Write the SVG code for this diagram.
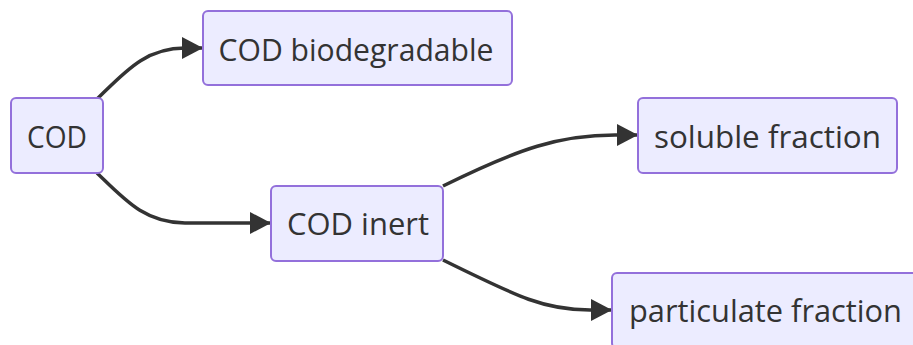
<svg xmlns="http://www.w3.org/2000/svg" width="913" height="345" viewBox="0 0 913 345">
  <style>
    .node rect { fill: #ECECFF; stroke: #9370DB; stroke-width: 2; }
    .node text { fill: #333333; font-family: "Open Sans", "Noto Sans", sans-serif; font-size: 31px; text-anchor: middle; }
    .edge { fill: none; stroke: #333333; stroke-width: 3.5; }
  </style>
  <defs>
    <marker id="arrow" markerUnits="userSpaceOnUse" markerWidth="22" markerHeight="24" refX="21" refY="11" orient="auto">
      <path d="M0,0 L21,11 L0,22 Z" fill="#333333"/>
    </marker>
  </defs>

  <g id="connectors">
    <path class="edge" marker-end="url(#arrow)" d="M97,99 C125,72 145,48 185,48 L203,48"/>
    <path class="edge" marker-end="url(#arrow)" d="M97,173 C125,200 145,223 185,223 L271,223"/>
    <path class="edge" marker-end="url(#arrow)" d="M443,186 C520,148 560,135 615,135 L638,135"/>
    <path class="edge" marker-end="url(#arrow)" d="M443,260 C520,298 545,310 590,310 L612,310"/>
  </g>

  <g id="cod" class="node">
    <rect x="11" y="98" width="92" height="75" rx="5"/>
    <text x="57" y="148" textLength="60" lengthAdjust="spacingAndGlyphs">COD</text>
  </g>
  <g id="cod-biodegradable" class="node">
    <rect x="203" y="11" width="309" height="74" rx="5"/>
    <text x="356" y="61" textLength="275" lengthAdjust="spacingAndGlyphs">COD biodegradable</text>
  </g>
  <g id="cod-inert" class="node">
    <rect x="271" y="186" width="172" height="75" rx="5"/>
    <text x="358" y="235" textLength="142" lengthAdjust="spacingAndGlyphs">COD inert</text>
  </g>
  <g id="soluble-fraction" class="node">
    <rect x="638" y="98" width="259" height="75" rx="5"/>
    <text x="767.5" y="148" textLength="227" lengthAdjust="spacingAndGlyphs">soluble fraction</text>
  </g>
  <g id="particulate-fraction" class="node">
    <rect x="612" y="273" width="307" height="75" rx="5"/>
    <text x="765.5" y="322" textLength="273" lengthAdjust="spacingAndGlyphs">particulate fraction</text>
  </g>
</svg>
